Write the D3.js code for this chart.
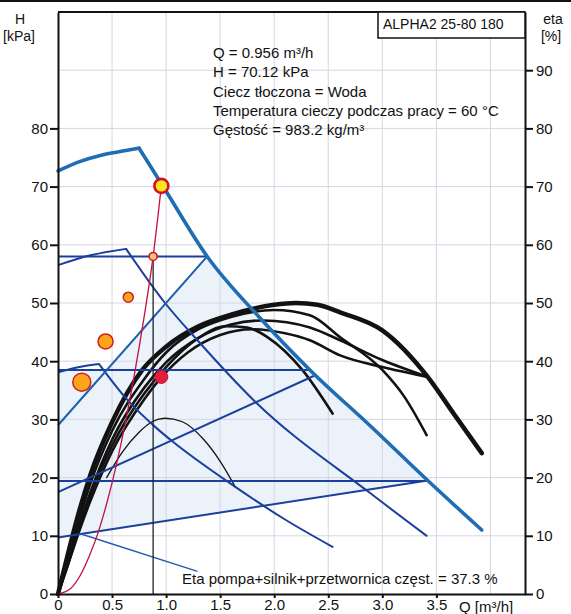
<!DOCTYPE html>
<html>
<head>
<meta charset="utf-8">
<script src="https://cdn.jsdelivr.net/npm/d3@7"></script>
<style>
  body { margin: 0; background: #fff; }
  svg text { font-family: "Liberation Sans", Arial, sans-serif; fill: #111; }
</style>
</head>
<body>
<div id="chart"></div>
<script>
// tick values
const qTicks = [0, 0.5, 1.0, 1.5, 2.0, 2.5, 3.0, 3.5];
const qGrid = [0.5, 1.0, 1.5, 2.0, 2.5, 3.0, 3.5, 4.0];
const hTicks = [0, 10, 20, 30, 40, 50, 60, 70, 80];
const etaTicks = [0, 10, 20, 30, 40, 50, 60, 70, 80, 90];
const hGrid = [10, 20, 30, 40, 50, 60, 70, 80, 90];

const infoLines = [
  "Q = 0.956 m³/h",
  "H = 70.12 kPa",
  "Ciecz tłoczona = Woda",
  "Temperatura cieczy podczas pracy = 60 °C",
  "Gęstość = 983.2 kg/m³"
];
const pumpName = "ALPHA2 25-80 180";
const etaNote = "Eta pompa+silnik+przetwornica częst. = 37.3 %";

// pump curves [Q m3/h, H kPa]; rising arcs and falling parts kept apart
const maxRise = [[0, 72.7], [0.2, 74.3], [0.4, 75.4], [0.6, 76.1], [0.75, 76.6]];
const maxFall = [[0.75, 76.6], [0.97, 70.1], [1.38, 58], [1.85, 47.8], [2.33, 38.5],
  [2.9, 28.7], [3.42, 19.5], [3.92, 11]];
const curveIIRise = [[0, 56.5], [0.3, 58.2], [0.63, 59.3]];
const curveIIFall = [[0.63, 59.3], [0.99, 50], [1.29, 43.6], [1.81, 33.3], [2.89, 17.3], [3.41, 10]];
const curveIRise = [[0, 38.1], [0.2, 39], [0.38, 39.5]];
const curveIFall = [[0.38, 39.5], [0.63, 33.6], [0.93, 28.2], [1.04, 26.5], [1.64, 18.4],
  [2.1, 12.8], [2.54, 8.1]];
const cp3 = [[0, 58], [1.38, 58]];
const cp2 = [[0, 38.5], [2.33, 38.5]];
const cp1 = [[0, 19.4], [3.42, 19.4]];
const pp3 = [[0, 29], [1.38, 58]];
const pp2 = [[0, 17.5], [2.37, 37.5]];
const pp1 = [[0, 9.7], [3.42, 19.5]];
const rangeArea = [[0, 9.7], [3.42, 19.5], [2.9, 28.7], [2.33, 38.5], [1.85, 47.8], [1.38, 58],
  [0.45, 38.5], [0, 38.5]];
const leader = [[0.2, 10.4], [1.29, 3.9]];

// efficiency curves [Q m3/h, eta %]
const etaK1 = [[0, 0], [0.1, 7.5], [0.2, 14.5], [0.3, 20.5], [0.5, 29.5], [0.78, 38.5], [1.0, 42.5],
  [1.3, 46], [1.6, 48], [2.0, 49.7], [2.2, 50], [2.4, 49.7], [2.61, 48.4], [3.0, 45.3],
  [3.42, 37.3], [3.66, 31], [3.92, 24.2]];
const etaD = [[0, 0], [0.1, 6.5], [0.2, 13], [0.3, 19], [0.5, 28], [0.8, 37], [1.0, 41.5],
  [1.3, 45.5], [1.6, 47.6], [2.0, 48.8], [2.33, 47.9], [2.61, 44.1], [3.0, 38.5], [3.2, 34],
  [3.41, 27.3]];
const etaB = [[0, 0], [0.1, 6], [0.2, 12], [0.3, 17.5], [0.5, 26.5], [0.8, 35.5], [1.0, 39.8],
  [1.3, 44], [1.6, 46.3], [1.9, 47], [2.33, 45.8], [2.61, 43.6], [3.0, 40.2], [3.42, 37.3]];
const etaE = [[0, 0], [0.1, 5.5], [0.2, 11.5], [0.3, 17], [0.5, 25.5], [0.8, 34.5], [1.0, 39],
  [1.3, 44], [1.55, 46], [1.75, 45.8], [1.94, 44.1], [2.26, 38.5], [2.54, 31]];
const etaC = [[0, 0], [0.1, 5.5], [0.2, 11], [0.3, 16], [0.5, 24.5], [0.8, 33.5], [0.96, 37.3],
  [1.2, 41.5], [1.5, 44.5], [1.8, 45.5], [2.1, 44.8], [2.33, 43.6], [2.61, 41], [3.0, 39],
  [3.42, 37.3]];
const etaLow = [[0.45, 20], [0.6, 24.5], [0.75, 27.8], [0.87, 29.6], [0.99, 30.2], [1.15, 29.6],
  [1.35, 26.5], [1.5, 22.8], [1.64, 18.4]];

// system curve and operating points
const systemCurve = [[0, 0], [0.12, 1], [0.2, 3], [0.3, 7], [0.37, 10.5], [0.45, 15.5],
  [0.55, 23], [0.7, 37], [0.8, 48], [0.88, 58], [0.956, 70.12]];
const dutyLine = [[0.88, 0], [0.88, 58]];
const powerDots = [[0.22, 36.4, 9], [0.44, 43.4, 7.5], [0.65, 51, 5]];

const W = 571, Hgt = 614;
const svg = d3.select("#chart").append("svg")
  .attr("width", W).attr("height", Hgt);

const x = d3.scaleLinear().domain([0, 4.32]).range([58, 525]);
const y = d3.scaleLinear().domain([0, 100]).range([594, 12]);

const line = d3.line().x(d => x(d[0])).y(d => y(d[1]));
const smooth = d3.line().x(d => x(d[0])).y(d => y(d[1])).curve(d3.curveMonotoneX);

// page rule at the very top
svg.append("line").attr("x1", 0).attr("x2", W).attr("y1", 1).attr("y2", 1)
  .attr("stroke", "#111").attr("stroke-width", 2);

// control range shading
svg.append("path").attr("d", line(rangeArea) + "Z")
  .attr("fill", "#ebf2fa").attr("stroke", "none");

// grid
svg.append("g").selectAll("line").data(qGrid).join("line")
  .attr("x1", d => x(d)).attr("x2", d => x(d))
  .attr("y1", y(0)).attr("y2", y(100))
  .attr("stroke", "#d5d6e3").attr("stroke-width", 1);
svg.append("g").selectAll("line").data(hGrid).join("line")
  .attr("x1", x(0)).attr("x2", x(4.32))
  .attr("y1", d => y(d)).attr("y2", d => y(d))
  .attr("stroke", "#d5d6e3").attr("stroke-width", 1);

// efficiency curves
const etaCurves = [
  { pts: etaC, w: 2.6 }, { pts: etaE, w: 2.6 }, { pts: etaB, w: 2.6 },
  { pts: etaD, w: 2.6 }, { pts: etaK1, w: 4.5 }, { pts: etaLow, w: 1.3 }
];
svg.append("g").selectAll("path").data(etaCurves).join("path")
  .attr("d", d => smooth(d.pts))
  .attr("fill", "none").attr("stroke", "#121212")
  .attr("stroke-width", d => d.w).attr("stroke-linecap", "round");

// thin pump lines
const navy = "#1b3f9c";
[cp3, cp2, cp1, pp2, pp1].forEach(pts => {
  svg.append("path").attr("d", line(pts))
    .attr("fill", "none").attr("stroke", navy).attr("stroke-width", 2);
});
[curveIIRise, curveIRise].forEach(pts => {
  svg.append("path").attr("d", smooth(pts))
    .attr("fill", "none").attr("stroke", navy).attr("stroke-width", 2);
});
[curveIIFall, curveIFall].forEach(pts => {
  svg.append("path").attr("d", smooth(pts))
    .attr("fill", "none").attr("stroke", navy).attr("stroke-width", 2)
    .attr("stroke-linecap", "round");
});
svg.append("path").attr("d", line(pp3))
  .attr("fill", "none").attr("stroke", "#1f5eab").attr("stroke-width", 2);
svg.append("path").attr("d", line(leader))
  .attr("fill", "none").attr("stroke", "#1f5eab").attr("stroke-width", 1.4);

// max curve
[maxRise, maxFall].forEach(pts => {
  svg.append("path").attr("d", smooth(pts))
    .attr("fill", "none").attr("stroke", "#1f6db3").attr("stroke-width", 3.6)
    .attr("stroke-linejoin", "round").attr("stroke-linecap", "round");
});

// duty line + system curve
svg.append("path").attr("d", line(dutyLine))
  .attr("stroke", "#222").attr("stroke-width", 1.3);
svg.append("path").attr("d", smooth(systemCurve))
  .attr("fill", "none").attr("stroke", "#c2123e").attr("stroke-width", 1.3);

// markers
svg.append("g").selectAll("circle").data(powerDots).join("circle")
  .attr("cx", d => x(d[0])).attr("cy", d => y(d[1])).attr("r", d => d[2])
  .attr("fill", "#ffa51c").attr("stroke", "#cf1f24").attr("stroke-width", 1.5);
svg.append("circle").attr("cx", x(0.88)).attr("cy", y(58)).attr("r", 4)
  .attr("fill", "#f7c46a").attr("stroke", "#d2142e").attr("stroke-width", 1.6);
svg.append("circle").attr("cx", x(0.956)).attr("cy", y(37.3)).attr("r", 6.5)
  .attr("fill", "#e51d3a").attr("stroke", "#c8102e").attr("stroke-width", 1);
svg.append("circle").attr("cx", x(0.956)).attr("cy", y(70.12)).attr("r", 7)
  .attr("fill", "#ffe61a").attr("stroke", "#d0122c").attr("stroke-width", 2.6);

// axes
const left = svg.append("g").attr("transform", `translate(${x(0)},0)`)
  .call(d3.axisLeft(y).tickValues(hTicks).tickSize(8).tickSizeOuter(0).tickPadding(2));
const right = svg.append("g").attr("transform", `translate(${x(4.32)},0)`)
  .call(d3.axisRight(y).tickValues(etaTicks).tickSize(8).tickSizeOuter(0).tickPadding(3));
const bottom = svg.append("g").attr("transform", `translate(0,${y(0)})`)
  .call(d3.axisBottom(x).tickValues(qTicks).tickSize(4).tickSizeOuter(0).tickPadding(1)
    .tickFormat(d => d === 0 ? "0" : d3.format(".1f")(d)));
[left, right, bottom].forEach(g => {
  g.select(".domain").attr("stroke", "#111").attr("stroke-width", 2);
  g.selectAll(".tick line").attr("stroke", "#111").attr("stroke-width", 2);
  g.selectAll("text").style("font-size", "15px").attr("fill", "#111");
});
svg.append("line").attr("x1", x(0)).attr("x2", x(4.32)).attr("y1", y(100)).attr("y2", y(100))
  .attr("stroke", "#111").attr("stroke-width", 2);

// axis titles
svg.append("text").attr("x", 20).attr("y", 24).attr("text-anchor", "middle")
  .style("font-size", "14px").text("H");
svg.append("text").attr("x", 19).attr("y", 41).attr("text-anchor", "middle")
  .style("font-size", "14px").text("[kPa]");
svg.append("text").attr("x", 553).attr("y", 24).attr("text-anchor", "middle")
  .style("font-size", "14px").text("eta");
svg.append("text").attr("x", 551).attr("y", 41).attr("text-anchor", "middle")
  .style("font-size", "14px").text("[%]");
svg.append("text").attr("x", 459).attr("y", 612)
  .style("font-size", "15px").text("Q [m³/h]");

// pump name box
svg.append("rect").attr("x", 378).attr("y", 12).attr("width", 147).attr("height", 26)
  .attr("fill", "#fff").attr("stroke", "#111").attr("stroke-width", 1.5);
svg.append("text").attr("x", 383).attr("y", 29)
  .style("font-size", "14px").text(pumpName);

// info block
svg.append("g").selectAll("text").data(infoLines).join("text")
  .attr("x", 213).attr("y", (d, i) => 58 + i * 19.3)
  .style("font-size", "15px").text(d => d);

svg.append("text").attr("x", 182).attr("y", 584)
  .style("font-size", "15px").text(etaNote);
</script>
</body>
</html>
